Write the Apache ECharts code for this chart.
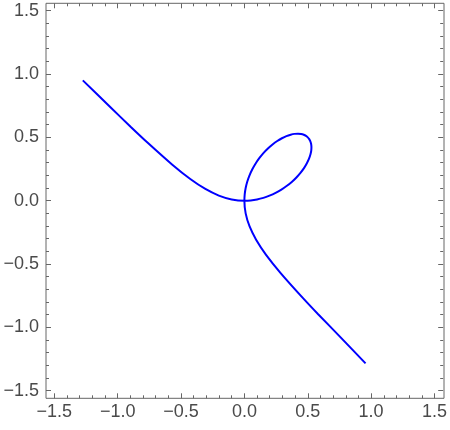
<!DOCTYPE html>
<html>
<head>
<meta charset="utf-8">
<script src="https://cdn.jsdelivr.net/npm/echarts@6/dist/echarts.min.js"></script>
<style>
html,body{margin:0;padding:0;background:#fff;}
#c{width:450px;height:430px;}
</style>
</head>
<body>
<div id="c"></div>
<script>
// curve points (upper-left arm -> origin -> loop -> origin -> lower-right arm)
var xs = [-1.275,-1.065,-0.896,-0.765,-0.571,-0.427,-0.308,-0.2016,-0.1001,0,
  0.05,0.0999,0.1495,0.198,0.2462,0.292,0.3356,0.376,0.4124,0.444,0.4716,0.493,0.510,0.521,0.5275,0.529,0.5266,0.5205,0.5115,0.5,
  0.486,0.4685,0.4476,0.423,0.3956,0.365,0.3315,0.296,0.2594,0.222,0.1856,0.150,0.1175,0.0876,0.0615,0.0397,0.0224,0.00999,0.0025,0,
  0.01,0.0403,0.0925,0.171,0.286,0.459,0.582,0.746,0.956];
var ys = [0.95,0.746,0.582,0.459,0.286,0.171,0.0925,0.0403,0.01,0,
  0.0025,0.00999,0.0224,0.0397,0.0615,0.0876,0.1175,0.150,0.1856,0.222,0.2594,0.296,0.3315,0.365,0.3956,0.423,0.4476,0.4685,0.486,0.5,
  0.5115,0.5205,0.5266,0.529,0.5275,0.521,0.510,0.493,0.4716,0.444,0.4124,0.376,0.3356,0.292,0.2462,0.198,0.1495,0.0999,0.05,0,
  -0.1001,-0.2016,-0.308,-0.427,-0.571,-0.765,-0.896,-1.065,-1.284];
var tickMin = -1.5, tickMax = 1.5, tickStep = 0.5;

var pts = xs.map(function(x,i){return [x, ys[i]];});
var fmt = function(v){ return (v < 0 ? '\u2212' : '') + Math.abs(v).toFixed(1); };
var frameColor = '#666666';
var labelStyle = {color:'#4a4a4a', fontSize:18, fontFamily:'Liberation Sans, Arial, sans-serif'};
function mkAxis(pos, offset, showLabel, margin){
  return {
    type:'value', position:pos, offset:offset, min:tickMin, max:tickMax, interval:tickStep,
    axisLine:{show:false, onZero:false},
    axisTick:{show:true, inside:true, length:5, lineStyle:{color:frameColor, width:1}},
    minorTick:{show:true, splitNumber:5, length:3, lineStyle:{color:frameColor, width:1}},
    splitLine:{show:false}, minorSplitLine:{show:false},
    axisLabel:Object.assign({show:showLabel, formatter:fmt, margin:margin}, labelStyle)
  };
}
var chart = echarts.init(document.getElementById('c'), null, {renderer:'canvas'});
chart.setOption({
  animation:false,
  backgroundColor:'#ffffff',
  grid:{left:54.3, right:14.7, top:10.7, bottom:39.3},
  xAxis:[mkAxis('bottom', 7.6, true, 5), mkAxis('top', 7.4, false, 8)],
  yAxis:[mkAxis('left', 8.3, true, 7), mkAxis('right', 8.7, false, 8)],
  graphic:[{type:'rect', shape:{x:46, y:3.3, width:398, height:395}, style:{fill:'none', stroke:frameColor, lineWidth:1}, silent:true}],
  series:[{
    type:'line', data:pts, smooth:0.3, showSymbol:false, symbol:'none',
    lineStyle:{color:'#0000ff', width:2}, clip:false
  }]
});
</script>
</body>
</html>
